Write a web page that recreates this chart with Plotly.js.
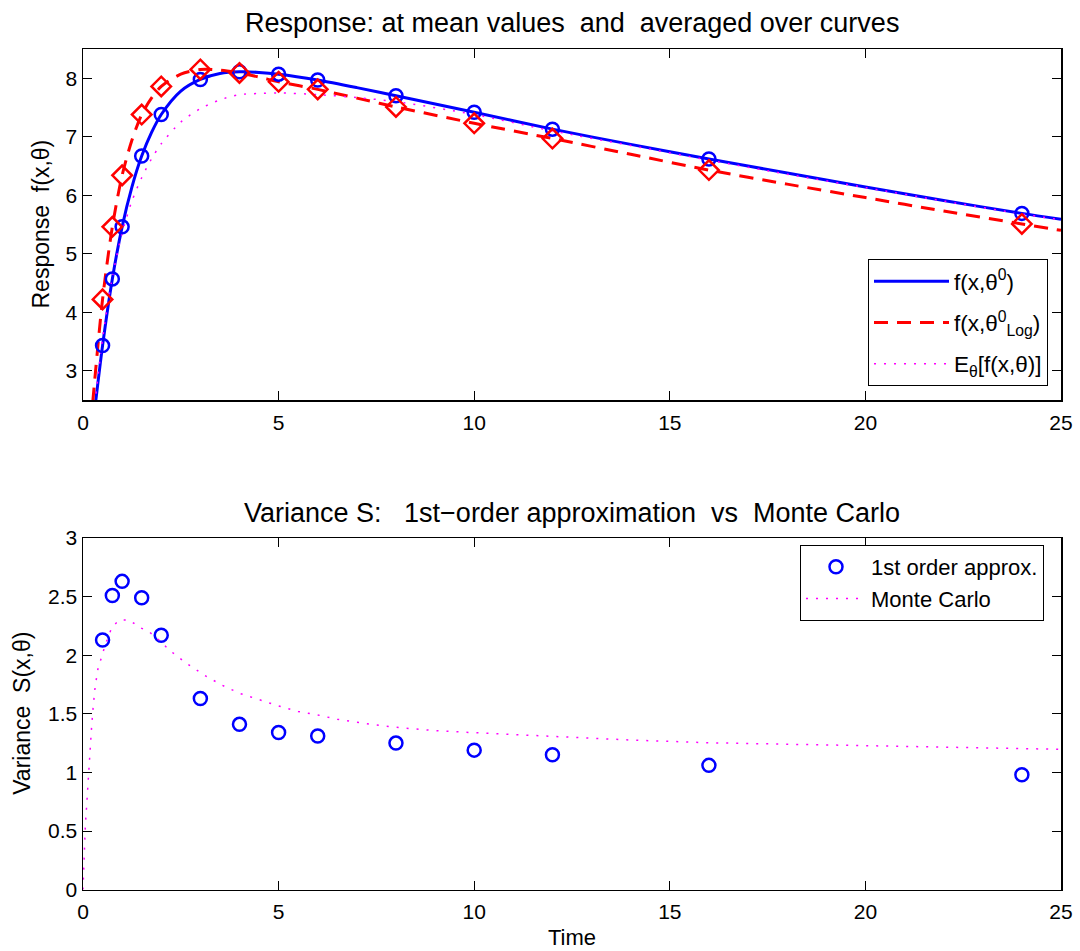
<!DOCTYPE html>
<html>
<head>
<meta charset="utf-8">
<script src="https://cdn.plot.ly/plotly-3.0.1.min.js"></script>
<style>html,body{margin:0;padding:0;background:#fff;}#chart{width:1080px;height:951px;}</style>
</head>
<body>
<div id="chart"></div>
<script>
// ---- data ----
const tPts = [0.5, 0.75, 1, 1.5, 2, 3, 4, 5, 6, 8, 10, 12, 16, 24];
const fMeanPts = [3.43, 4.57, 5.46, 6.67, 7.38, 7.98, 8.11, 8.07, 7.97, 7.70, 7.42, 7.13, 6.62, 5.69];
const fLogPts = [4.22, 5.46, 6.34, 7.38, 7.86, 8.15, 8.09, 7.94, 7.81, 7.51, 7.23, 6.97, 6.43, 5.51];
const varPts = [2.13, 2.51, 2.63, 2.49, 2.17, 1.63, 1.41, 1.34, 1.31, 1.25, 1.19, 1.15, 1.06, 0.98];

const tCurve = [0.25, 0.5, 0.75, 1, 1.25, 1.5, 1.75, 2, 2.5, 3, 3.5, 4, 4.5, 5, 6, 7, 8, 10, 12, 14, 16, 18, 20, 22, 24, 25];
const fMeanCurve = [2.05, 3.43, 4.57, 5.46, 6.14, 6.67, 7.07, 7.38, 7.78, 7.98, 8.08, 8.11, 8.10, 8.07, 7.97, 7.84, 7.70, 7.42, 7.13, 6.87, 6.62, 6.38, 6.14, 5.91, 5.69, 5.59];
const fLogCurve = [2.47, 4.22, 5.46, 6.34, 6.94, 7.38, 7.66, 7.86, 8.07, 8.15, 8.14, 8.09, 8.02, 7.94, 7.81, 7.66, 7.51, 7.23, 6.97, 6.70, 6.43, 6.19, 5.96, 5.73, 5.51, 5.40];
const fExpCurve = [2.10, 3.55, 4.60, 5.35, 5.90, 6.30, 6.62, 6.88, 7.25, 7.48, 7.63, 7.72, 7.74, 7.75, 7.72, 7.67, 7.60, 7.38, 7.10, 6.85, 6.60, 6.36, 6.13, 5.90, 5.68, 5.58];

const tMC = [0, 0.02, 0.04, 0.06, 0.09, 0.12, 0.16, 0.19, 0.22, 0.26, 0.31, 0.38, 0.47, 0.57, 0.74, 0.93, 1.19, 1.43, 1.69, 1.94, 2.22, 2.65, 3.1, 3.55, 4.0, 4.5, 5, 5.5, 6, 6.5, 7, 7.5, 8, 9, 10, 12, 14, 16, 18, 20, 22, 24, 25];
const varMC = [0, 0.25, 0.45, 0.55, 0.70, 0.88, 1.05, 1.22, 1.39, 1.56, 1.73, 1.88, 1.99, 2.09, 2.24, 2.30, 2.30, 2.24, 2.20, 2.13, 2.04, 1.93, 1.83, 1.745, 1.675, 1.62, 1.567, 1.52, 1.49, 1.453, 1.427, 1.404, 1.385, 1.356, 1.339, 1.305, 1.276, 1.253, 1.24, 1.225, 1.211, 1.202, 1.197];

const xTicks = [0, 5, 10, 15, 20, 25];
const yTicksTop = [3, 4, 5, 6, 7, 8];
const yTicksBot = [0, 0.5, 1, 1.5, 2, 2.5, 3];

const legendTop = ['f(x,θ<sup>0</sup>)', 'f(x,θ<sup>0</sup><sub>Log</sub>)', 'E<sub>θ</sub>[f(x,θ)]'];
const legendBot = ['1st order approx.', 'Monte Carlo'];

const titleTop = 'Response: at mean values\u00A0 and\u00A0 averaged over curves';
const titleBot = 'Variance S:\u00A0\u00A0 1st\u2212order approximation\u00A0 vs\u00A0 Monte Carlo';
const yLabelTop = 'Response\u00A0 f(x,θ)';
const yLabelBot = 'Variance\u00A0 S(x,θ)';
const xLabel = 'Time';

// ---- styling ----
const FONT = 'Liberation Sans, Arial, Helvetica, sans-serif';
const BLUE = '#0000ff', RED = '#ff0000', MAG = '#ff00ff';
const TICK_FS = 21, TITLE_FS = 27, LABEL_FS = 23, LEG_FS = 22.5;

const traces = [
  {x: tCurve, y: fMeanCurve, mode: 'lines', name: legendTop[0], legendgroup: 'a', line: {color: BLUE, width: 3, shape: 'spline', smoothing: 0.8}, xaxis: 'x', yaxis: 'y', legend: 'legend'},
  {x: tCurve, y: fLogCurve, mode: 'lines', name: legendTop[1], legendgroup: 'b', line: {color: RED, width: 3, dash: '14px,9px', shape: 'spline', smoothing: 0.8}, xaxis: 'x', yaxis: 'y', legend: 'legend'},
  {x: tCurve, y: fExpCurve, mode: 'lines', name: legendTop[2], legendgroup: 'c', line: {color: MAG, width: 1.5, dash: '2px,8px', shape: 'spline', smoothing: 0.8}, xaxis: 'x', yaxis: 'y', legend: 'legend'},
  {x: tPts, y: fMeanPts, mode: 'markers', showlegend: false, marker: {symbol: 'circle-open', size: 13, color: BLUE, line: {width: 2.5, color: BLUE}}, xaxis: 'x', yaxis: 'y'},
  {x: tPts, y: fLogPts, mode: 'markers', showlegend: false, marker: {symbol: 'diamond-open', size: 15, color: RED, line: {width: 2.5, color: RED}}, xaxis: 'x', yaxis: 'y'},

  {x: tPts, y: varPts, mode: 'markers', name: legendBot[0], marker: {symbol: 'circle-open', size: 13, color: BLUE, line: {width: 2.5, color: BLUE}}, xaxis: 'x2', yaxis: 'y2', legend: 'legend2'},
  {x: tMC, y: varMC, mode: 'lines', name: legendBot[1], line: {color: MAG, width: 1.5, dash: '2px,8px'}, xaxis: 'x2', yaxis: 'y2', legend: 'legend2'}
];

const W = 1080, H = 951;
const xL = 83, xR = 1061;
const topT = 49, topB = 400, botT = 538, botB = 889.6;

function axisX(domain, anchor) {
  return {
    domain: domain, anchor: anchor, range: [0, 25], tickvals: xTicks, ticktext: xTicks.map(String),
    ticks: 'inside', ticklen: 9, tickwidth: 1, tickcolor: '#000', ticklabelstandoff: 3,
    showline: true, linecolor: '#000', linewidth: 1.5, mirror: 'ticks', showgrid: false, zeroline: false,
    tickfont: {family: FONT, size: TICK_FS, color: '#000'}, fixedrange: true
  };
}
function axisY(domain, anchor, range, ticks) {
  return {
    domain: domain, anchor: anchor, range: range, tickvals: ticks, ticktext: ticks.map(String),
    ticks: 'inside', ticklen: 9, tickwidth: 1, tickcolor: '#000',
    showline: true, linecolor: '#000', linewidth: 1.5, mirror: 'ticks', showgrid: false, zeroline: false,
    tickfont: {family: FONT, size: TICK_FS, color: '#000'}, fixedrange: true
  };
}

const layout = {
  width: W, height: H,
  margin: {l: 0, r: 0, t: 0, b: 0},
  paper_bgcolor: '#fff', plot_bgcolor: '#fff',
  font: {family: FONT, size: TICK_FS, color: '#000'},
  xaxis: axisX([xL / W, xR / W], 'y'),
  yaxis: axisY([(H - topB) / H, (H - topT) / H], 'x', [2.5, 8.5], yTicksTop),
  xaxis2: axisX([xL / W, xR / W], 'y2'),
  yaxis2: axisY([(H - botB) / H, (H - botT) / H], 'x2', [0, 3], yTicksBot),
  legend: {
    x: 868 / W, y: (H - 259) / H, xanchor: 'left', yanchor: 'top',
    bgcolor: '#fff', bordercolor: '#000', borderwidth: 1,
    font: {family: FONT, size: LEG_FS, color: '#000'}, itemwidth: 75, tracegroupgap: 9
  },
  legend2: {
    x: 800 / W, y: (H - 545) / H, xanchor: 'left', yanchor: 'top',
    bgcolor: '#fff', bordercolor: '#000', borderwidth: 1,
    font: {family: FONT, size: 22, color: '#000'}, itemwidth: 60, tracegroupgap: 0
  },
  annotations: [
    {text: titleTop, xref: 'paper', yref: 'paper', x: (xL + xR) / 2 / W, y: (H - 23) / H, xanchor: 'center', yanchor: 'middle', showarrow: false, font: {family: FONT, size: TITLE_FS, color: '#000'}},
    {text: titleBot, xref: 'paper', yref: 'paper', x: (xL + xR) / 2 / W, y: (H - 513) / H, xanchor: 'center', yanchor: 'middle', showarrow: false, font: {family: FONT, size: TITLE_FS, color: '#000'}},
    {text: yLabelTop, xref: 'paper', yref: 'paper', x: 41 / W, y: (H - (topT + topB) / 2) / H, xanchor: 'center', yanchor: 'middle', textangle: -90, showarrow: false, font: {family: FONT, size: LABEL_FS, color: '#000'}},
    {text: yLabelBot, xref: 'paper', yref: 'paper', x: 22 / W, y: (H - (botT + botB) / 2) / H, xanchor: 'center', yanchor: 'middle', textangle: -90, showarrow: false, font: {family: FONT, size: LABEL_FS, color: '#000'}},
    {text: xLabel, xref: 'paper', yref: 'paper', x: (xL + xR) / 2 / W, y: (H - 937) / H, xanchor: 'center', yanchor: 'middle', showarrow: false, font: {family: FONT, size: 22, color: '#000'}}
  ]
};

Plotly.newPlot('chart', traces, layout, {displayModeBar: false, staticPlot: true});
</script>
</body>
</html>
